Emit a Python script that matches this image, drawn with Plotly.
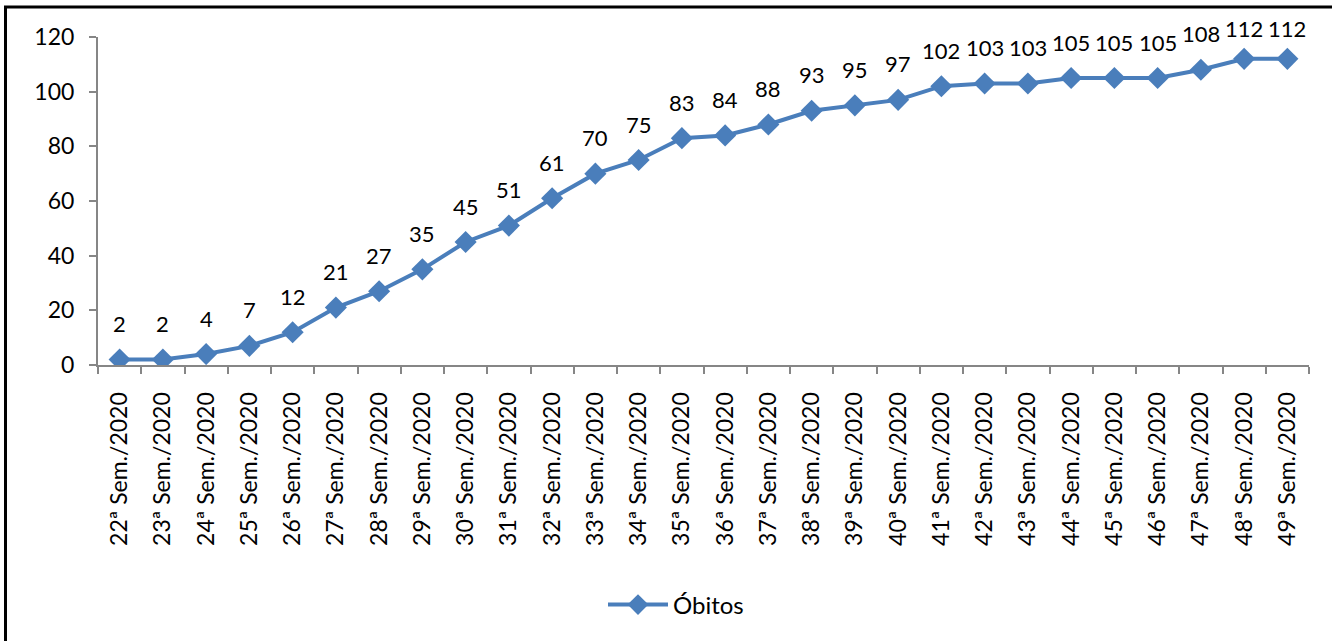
import plotly.graph_objects as go

weeks = [f"{n}ª Sem./2020" for n in range(22, 50)]
obitos = [2, 2, 4, 7, 12, 21, 27, 35, 45, 51, 61, 70, 75, 83, 84, 88, 93, 95, 97,
          102, 103, 103, 105, 105, 105, 108, 112, 112]
y_ticks = [0, 20, 40, 60, 80, 100, 120]

COLOR = "#4A7EBB"
FONT = "Lato"
W, H = 1332, 641
L, R, T, B = 98, 23, 37, 276
PW, PH = W - L - R, H - T - B
YMAX = 120

fig = go.Figure()
fig.add_trace(go.Scatter(
    x=weeks, y=obitos, mode="lines+markers", name="Óbitos",
    line=dict(color=COLOR, width=4),
    marker=dict(symbol="diamond", size=17, color=COLOR),
))

for w, v in zip(weeks, obitos):
    py = T + (YMAX - v) / YMAX * PH
    shift = min(36, py - 28.5)
    fig.add_annotation(x=w, y=v, text=str(v), showarrow=False, yshift=shift,
                       font=dict(family=FONT, size=22, color="#000000"))

fig.update_layout(
    width=W, height=H,
    margin=dict(l=L, r=R, t=T, b=B, autoexpand=False),
    plot_bgcolor="white", paper_bgcolor="white",
    font=dict(family=FONT, size=22, color="#000000"),
    showlegend=True,
    legend=dict(orientation="h", x=(676 - L) / PW, xanchor="center",
                y=(T + PH - 605) / PH, yanchor="middle",
                font=dict(family=FONT, size=24), itemwidth=60),
    xaxis=dict(
        type="category", range=[-0.5, 27.5], showline=True, linecolor="#868686",
        linewidth=2, ticks="outside", ticklen=7, tickcolor="#868686", tickwidth=2,
        tickson="boundaries", tickangle=-90, showgrid=False, automargin=False,
        ticklabelstandoff=16,
        tickfont=dict(family=FONT, size=23),
    ),
    yaxis=dict(
        range=[0, YMAX], tickvals=y_ticks, showline=True, linecolor="#868686",
        linewidth=2, ticks="outside", ticklen=7, tickcolor="#868686", tickwidth=2,
        showgrid=False, zeroline=False, automargin=False,
        ticklabelstandoff=10,
        tickfont=dict(family=FONT, size=23),
    ),
    shapes=[dict(type="rect", xref="paper", yref="paper",
                 x0=(5.5 - L) / PW, x1=(W + 5 - L) / PW,
                 y0=(T + PH - H - 5) / PH, y1=(T + PH - 7) / PH,
                 line=dict(color="#000000", width=3))],
)

fig.write_html("out.html", config={"displayModeBar": False},
               post_script="document.body.style.margin='0';document.body.style.overflow='hidden';")
